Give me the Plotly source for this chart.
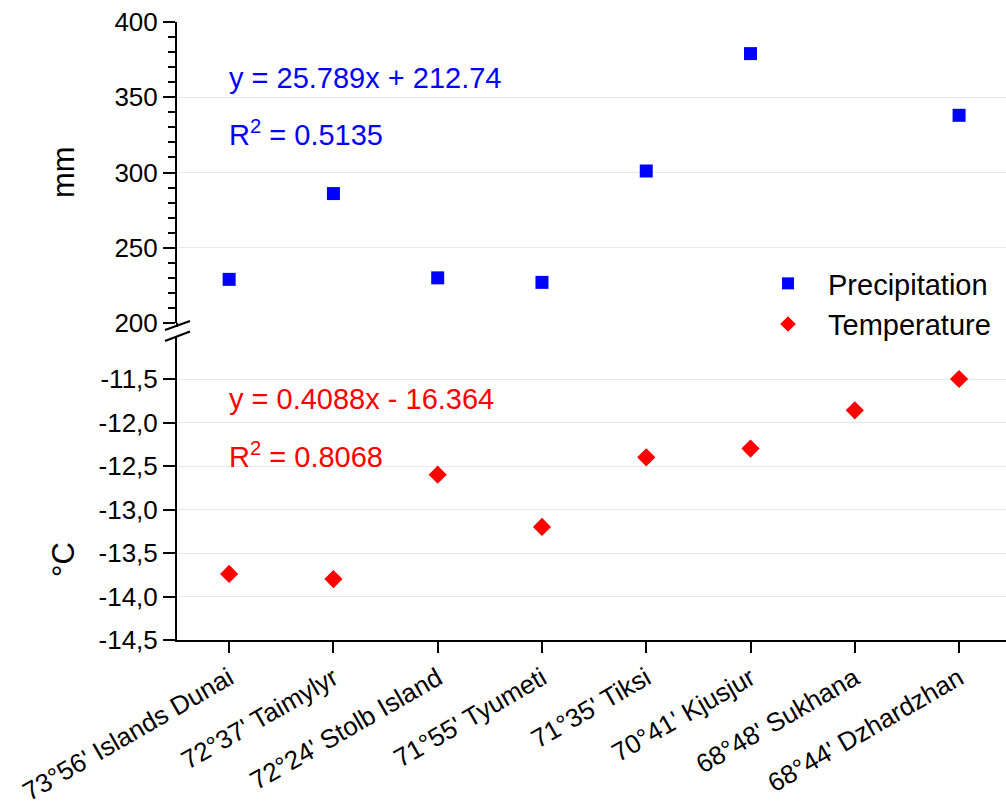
import plotly.graph_objects as go

stations = ["73°56' Islands Dunai", "72°37' Taimylyr", "72°24' Stolb Island",
            "71°55' Tyumeti", "71°35' Tiksi", "70°41' Kjusjur",
            "68°48' Sukhana", "68°44' Dzhardzhan"]
precip = [229, 286, 230, 227, 301, 379, None, 338]
temp = [-13.74, -13.80, -12.60, -13.20, -12.40, -12.30, -11.86, -11.50]

temp_ticks = [-14.5, -14.0, -13.5, -13.0, -12.5, -12.0, -11.5]
temp_ticktext = ["-14,5", "-14,0", "-13,5", "-13,0", "-12,5", "-12,0", "-11,5"]
precip_ticks = [200, 250, 300, 350, 400]

W, H = 1006, 812
L, R, T, B = 177, 0, 22, 172
pw, ph = W - L - R, H - T - B

def px(x):
    return (x - L) / pw

def py(y):
    return (H - B - y) / ph

FONT = "Liberation Sans, Arial, sans-serif"
top_dom = [py(323), 1.0]
bot_dom = [0.0, py(336)]
bot_top = -14.5 + (640 - 336) / 87.0

fig = go.Figure()
fig.add_trace(go.Scatter(x=stations, y=precip, mode="markers", name="Precipitation",
                         yaxis="y2",
                         marker=dict(symbol="square", size=13, color="#0000FF")))
fig.add_trace(go.Scatter(x=stations, y=temp, mode="markers", name="Temperature",
                         yaxis="y",
                         marker=dict(symbol="diamond", size=14, color="#FF0000")))

axis_common = dict(showline=True, linecolor="black", linewidth=2, ticks="outside",
                   tickcolor="black", tickwidth=2, zeroline=False,
                   tickfont=dict(family=FONT, size=26, color="black"))

fig.update_layout(
    width=W, height=H,
    margin=dict(l=L, r=R, t=T, b=B),
    plot_bgcolor="white", paper_bgcolor="white",
    showlegend=True,
    legend=dict(x=px(748), y=py(258), xanchor="left", yanchor="top",
                bgcolor="rgba(0,0,0,0)", font=dict(family=FONT, size=29, color="black"),
                itemsizing="constant", itemwidth=70, tracegroupgap=0),
    xaxis=dict(type="category", range=[-0.5, 7.45], anchor="y", showgrid=False,
               tickangle=-30, ticklen=11, **axis_common),
    yaxis=dict(domain=bot_dom, range=[-14.5, bot_top], tickvals=temp_ticks,
               ticktext=temp_ticktext, ticklen=12, showgrid=True,
               gridcolor="#e8e8e8", gridwidth=1, anchor="x", **axis_common),
    yaxis2=dict(domain=top_dom, range=[200, 400], tickvals=precip_ticks, ticklen=12,
                showgrid=True, gridcolor="#e8e8e8", gridwidth=1, anchor="x",
                minor=dict(dtick=10, ticks="outside", ticklen=7, tickcolor="black",
                           tickwidth=2, showgrid=False),
                **axis_common),
)

ann_font = dict(family=FONT, size=29)
fig.add_annotation(text="y = 25.789x + 212.74", x=px(227), y=py(78), xref="paper", yref="paper",
                   xanchor="left", yanchor="middle", showarrow=False,
                   font=dict(color="#0000FF", **ann_font))
fig.add_annotation(text="R<sup>2</sup> = 0.5135", x=px(227), y=py(133), xref="paper", yref="paper",
                   xanchor="left", yanchor="middle", showarrow=False,
                   font=dict(color="#0000FF", **ann_font))
fig.add_annotation(text="y = 0.4088x - 16.364", x=px(227), y=py(399), xref="paper", yref="paper",
                   xanchor="left", yanchor="middle", showarrow=False,
                   font=dict(color="#FF0000", **ann_font))
fig.add_annotation(text="R<sup>2</sup> = 0.8068", x=px(227), y=py(455), xref="paper", yref="paper",
                   xanchor="left", yanchor="middle", showarrow=False,
                   font=dict(color="#FF0000", **ann_font))

fig.add_annotation(text="mm", x=px(63), y=py(172), xref="paper", yref="paper",
                   xanchor="center", yanchor="middle", showarrow=False, textangle=-90,
                   font=dict(family=FONT, size=31, color="black"))
fig.add_annotation(text="°C", x=px(63), y=py(560), xref="paper", yref="paper",
                   xanchor="center", yanchor="middle", showarrow=False, textangle=-90,
                   font=dict(family=FONT, size=31, color="black"))

# axis break: small extensions and two slanted marks
line = dict(color="black", width=2)
fig.add_shape(type="line", xref="paper", yref="paper", x0=px(177), x1=px(177),
              y0=py(323), y1=py(327), line=line)
fig.add_shape(type="line", xref="paper", yref="paper", x0=px(165), x1=px(190),
              y0=py(330), y1=py(321), line=line)
fig.add_shape(type="line", xref="paper", yref="paper", x0=px(165), x1=px(190),
              y0=py(341), y1=py(331.5), line=line)

fig.write_html("out.html")
